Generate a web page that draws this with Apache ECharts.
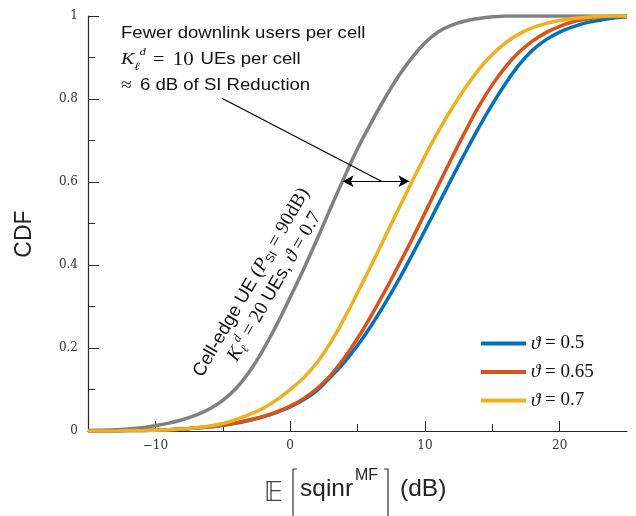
<!DOCTYPE html>
<html>
<head>
<meta charset="utf-8">
<script src="https://cdn.jsdelivr.net/npm/echarts@6/dist/echarts.min.js"></script>
<style>html,body{margin:0;padding:0;background:#fff;}#c{width:636px;height:516px;}</style>
</head>
<body>
<div id="c"></div>
<script>
// x values (dB)
var xs = [-15,-14,-13,-12,-11,-10,-9,-8,-7,-6,-5,-4,-3,-2,-1,0,1,2,3,4,5,6,7,8,9,10,11,12,13,14,15,16,17,18,19,20,21,22,23,24,25];
// CDF values
var grayCDF   = [0.001,0.002,0.003,0.005,0.008,0.013,0.019,0.027,0.038,0.053,0.074,0.103,0.144,0.196,0.256,0.322,0.39,0.462,0.537,0.61,0.68,0.742,0.8,0.853,0.898,0.935,0.962,0.978,0.988,0.994,0.998,1,1,1,1,1,1,1,1,1,1];
var yellowCDF = [0,0,0,0.001,0.001,0.002,0.003,0.005,0.008,0.012,0.018,0.028,0.04,0.055,0.075,0.1,0.128,0.165,0.213,0.27,0.333,0.398,0.465,0.532,0.598,0.662,0.722,0.777,0.827,0.871,0.907,0.936,0.957,0.972,0.982,0.989,0.994,0.997,0.999,1,1];
var orangeCDF = [0,0,0,0.001,0.001,0.002,0.003,0.005,0.007,0.01,0.014,0.02,0.027,0.035,0.046,0.06,0.078,0.102,0.134,0.175,0.223,0.277,0.335,0.396,0.459,0.525,0.592,0.658,0.722,0.782,0.834,0.878,0.913,0.94,0.96,0.975,0.986,0.993,0.997,0.999,1];
var blueCDF   = [0,0,0,0.001,0.001,0.002,0.003,0.005,0.007,0.01,0.014,0.019,0.026,0.034,0.045,0.058,0.075,0.098,0.13,0.165,0.206,0.253,0.305,0.361,0.421,0.483,0.546,0.609,0.671,0.731,0.787,0.838,0.883,0.918,0.943,0.961,0.974,0.984,0.99,0.995,0.998];
var seriesNames = ['\u03D1 = 0.5', '\u03D1 = 0.65', '\u03D1 = 0.7'];
var xMajorTicks = [-10,0,10,20];
var xTickLabels = ['\u221210','0','10','20'];
var yTickLabels = {0:'0',0.2:'0.2',0.4:'0.4',0.6:'0.6',0.8:'0.8',1:'1'};

function pairs(arr){ return xs.map(function(x,i){ return [x, arr[i]]; }); }

var chart = echarts.init(document.getElementById('c'), null, {renderer:'canvas'});
var axisColor = '#262626';
var tickFont = {fontFamily:'DejaVu Serif', fontSize:12, color:'#333'};
var serif = 'Liberation Serif', sans = 'Liberation Sans';

var option = {
  animation:false,
  backgroundColor:'#fff',
  grid:{left:88, right:9, top:16, bottom:85},
  xAxis:[{
    type:'value', min:-15, max:25, interval:5,
    axisLine:{onZero:false, lineStyle:{color:axisColor, width:1.2}},
    axisTick:{inside:true, length:7, lineStyle:{color:axisColor}},
    axisLabel:Object.assign({margin:9, showMinLabel:false, showMaxLabel:false, formatter:function(v){ var i = xMajorTicks.indexOf(v); return i>=0 ? xTickLabels[i] : ''; }}, tickFont),
    splitLine:{show:false}
  },{
    type:'value', min:-15, max:25, position:'bottom',
    axisLine:{show:false},
    axisTick:{show:true, inside:true, length:10, customValues:xMajorTicks, lineStyle:{color:axisColor}},
    axisLabel:{show:true, customValues:xMajorTicks, formatter:function(){ return ''; }},
    splitLine:{show:false}
  }],
  yAxis:{
    type:'value', min:0, max:1, interval:0.2,
    axisLine:{show:true, onZero:false, lineStyle:{color:axisColor, width:1.2}},
    axisTick:{show:true, inside:true, length:11, lineStyle:{color:axisColor}},
    minorTick:{show:true, splitNumber:2, length:7, lineStyle:{color:axisColor}},
    axisLabel:Object.assign({margin:10, formatter:function(v){ var k = Math.round(v*10)/10; return yTickLabels[k]; }}, tickFont),
    splitLine:{show:false}
  },
  legend:{
    data:seriesNames, orient:'vertical', left:476, top:329, itemWidth:45, itemHeight:4, itemGap:9.5,
    icon:'rect',
    formatter:function(n){ return '{i|\u03D1}{s|' + n.slice(1) + '}'; },
    textStyle:{fontFamily:serif, fontSize:19, color:'#111', padding:[0,0,0,0],
      rich:{ i:{fontFamily:serif, fontStyle:'italic', fontSize:19, color:'#111'}, s:{fontFamily:serif, fontSize:19, color:'#111'} }}
  },
  series:[
    {name:'gray', type:'line', data:pairs(grayCDF), smooth:0.4, showSymbol:false, lineStyle:{color:'#808080', width:3.5}, itemStyle:{color:'#808080'},
     markLine:{silent:true, symbol:['arrow','arrow'], symbolSize:[9,11], label:{show:false}, lineStyle:{color:'#000', width:1.2, type:'solid'},
       data:[
         [{coord:[3.9,0.602]},{coord:[8.85,0.602]}],
         [{coord:[-5.06,0.802], symbol:'none'},{coord:[6.77,0.602], symbol:'none'}]
       ]}},
    {name:seriesNames[0], type:'line', data:pairs(blueCDF), smooth:0.4, showSymbol:false, lineStyle:{color:'#0072BD', width:3.5}, itemStyle:{color:'#0072BD'}},
    {name:seriesNames[1], type:'line', data:pairs(orangeCDF), smooth:0.4, showSymbol:false, lineStyle:{color:'#D95319', width:3.5}, itemStyle:{color:'#D95319'}},
    {name:seriesNames[2], type:'line', data:pairs(yellowCDF), smooth:0.4, showSymbol:false, lineStyle:{color:'#EDB120', width:3.5}, itemStyle:{color:'#EDB120'}}
  ],
  graphic:[
    {type:'text', x:25, y:234, rotation:Math.PI/2, style:{text:'CDF', font:'23px Liberation Sans', fill:'#222', align:'center', verticalAlign:'middle'}},
    // x-axis title: E [ sqinr^MF ] (dB)
    {type:'text', x:273.5, y:494, style:{text:'\uD835\uDD3C', font:'26px DejaVu Sans', fill:'#444', align:'center', verticalAlign:'middle'}},
    {type:'polyline', shape:{points:[[297,469],[293,469],[293,520]]}, style:{stroke:'#333', lineWidth:1.2, fill:null}},
    {type:'text', x:300, y:502, style:{text:'sqinr', font:'24.5px Liberation Sans', fill:'#222', verticalAlign:'bottom'}},
    {type:'text', x:355, y:484, style:{text:'MF', font:'16px Liberation Sans', fill:'#222', verticalAlign:'bottom'}},
    {type:'polyline', shape:{points:[[384,469],[388,469],[388,520]]}, style:{stroke:'#333', lineWidth:1.2, fill:null}},
    {type:'text', x:400, y:502, style:{text:'(dB)', font:'24.5px Liberation Sans', fill:'#222', verticalAlign:'bottom'}},
    // annotation
    {type:'text', x:121, y:34, scaleX:1.16, style:{text:'Fewer downlink users per cell', font:'16px Liberation Sans', fill:'#111', verticalAlign:'middle'}},
    {type:'text', x:121, y:60, scaleX:1.16, style:{
      text:'{i|K}{sub|\u2113}{sup|d}{eq|=}{n|10}{t|UEs per cell}', verticalAlign:'middle',
      rich:{
        i:{fontFamily:serif, fontStyle:'italic', fontSize:17, fill:'#111', lineHeight:26},
        sub:{fontFamily:serif, fontStyle:'italic', fontSize:11, fill:'#111', verticalAlign:'bottom', lineHeight:26},
        sup:{fontFamily:serif, fontStyle:'italic', fontSize:11, fill:'#111', verticalAlign:'top', lineHeight:26},
        eq:{fontFamily:serif, fontSize:18, fill:'#111', lineHeight:26, padding:[0,5,0,6]},
        n:{fontFamily:serif, fontSize:18, fill:'#111', lineHeight:26, padding:[0,6,0,2]},
        t:{fontFamily:sans, fontSize:16, fill:'#111', lineHeight:26}
      }}},
    {type:'text', x:121, y:86, scaleX:1.16, style:{
      text:'{s|\u2248}{t|6 dB of SI Reduction}', verticalAlign:'middle',
      rich:{ s:{fontFamily:serif, fontSize:17, fill:'#111', padding:[0,7,0,0]}, t:{fontFamily:sans, fontSize:16, fill:'#111'} }}},
    {type:'group', x:261, y:288, rotation:60*Math.PI/180, children:[
      {type:'text', x:0, y:-11, style:{
        text:'{t|Cell-edge UE }{s|(}{i|P}{sub|SI}{s| = 90dB)}', align:'center', verticalAlign:'middle',
        rich:{
          t:{fontFamily:sans, fontSize:18.5, fill:'#111', lineHeight:22},
          s:{fontFamily:serif, fontSize:19.5, fill:'#111', lineHeight:22},
          i:{fontFamily:serif, fontStyle:'italic', fontSize:19.5, fill:'#111', lineHeight:22},
          sub:{fontFamily:sans, fontSize:12, fill:'#111', verticalAlign:'bottom', lineHeight:22}
        }}},
      {type:'text', x:8, y:11, style:{
        text:'{i|K}{sub|\u2113}{sup|d}{s| = 20 }{t|UEs, }{i|\u03D1}{s| = 0.7}', align:'center', verticalAlign:'middle',
        rich:{
          t:{fontFamily:sans, fontSize:18.5, fill:'#111', lineHeight:24},
          s:{fontFamily:serif, fontSize:19.5, fill:'#111', lineHeight:24},
          i:{fontFamily:serif, fontStyle:'italic', fontSize:19.5, fill:'#111', lineHeight:24},
          sub:{fontFamily:serif, fontStyle:'italic', fontSize:12, fill:'#111', verticalAlign:'bottom', lineHeight:24},
          sup:{fontFamily:serif, fontStyle:'italic', fontSize:12, fill:'#111', verticalAlign:'top', lineHeight:24}
        }}}
    ]}
  ]
};
chart.setOption(option);
</script>
</body>
</html>
